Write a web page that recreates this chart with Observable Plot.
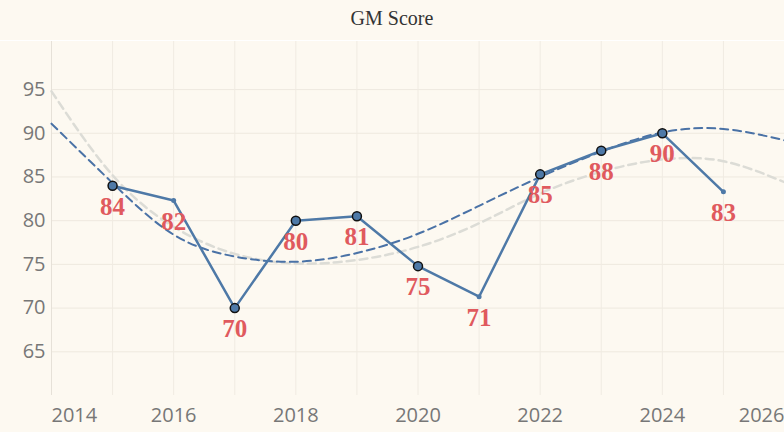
<!DOCTYPE html>
<html><head><meta charset="utf-8">
<script src="https://cdn.jsdelivr.net/npm/d3@7"></script>
<script src="https://cdn.jsdelivr.net/npm/@observablehq/plot@0.6"></script>
<style>
body{margin:0;background:#fdf9f1;}
#t{height:40px;line-height:36px;text-align:center;font-family:"Liberation Serif",serif;font-size:20px;color:#333;border-bottom:1px solid #fff;}
</style></head><body>
<div id="t">GM Score</div>
<div id="c"></div>
<script>
const years=[2015,2016,2017,2018,2019,2020,2021,2022,2023,2024,2025];
const scores=[84,82.3,70,80,80.5,74.8,71.3,85.3,88,90,83.3];
const labels=["84","82","70","80","81","75","71","85","88","90","83"];
const bigMarker=[true,false,true,true,true,true,false,true,true,true,false];
const trendYears=[2014,2015,2016,2017,2018,2019,2020,2021,2022,2023,2024,2025,2026];
const trendBlue=[91.1,84.3,78.4,75.9,75.3,76.3,78.5,81.7,85,87.9,90.1,90.5,89.2];
const trendGray=[94.8,85.2,79.3,76.2,75.1,75.5,77,79.7,83.1,85.6,87,86.8,84.4];
const yTicks=[65,70,75,80,85,90,95];
const xTicks=[2014,2016,2018,2020,2022,2024,2026];

const pts=years.map((y,i)=>({year:y,score:scores[i],label:labels[i],big:bigMarker[i]}));
const tb=trendYears.map((y,i)=>({year:y,v:trendBlue[i]}));
const tg=trendYears.map((y,i)=>({year:y,v:trendGray[i]}));
const xl=(ticks,anchor)=>Plot.text(ticks,{x:d=>d,y:60,text:d=>String(d),dy:20,fontSize:20,fill:"#777",textAnchor:anchor});
const chart=Plot.plot({
  width:784,height:392,marginLeft:51,marginRight:0,marginTop:0,marginBottom:38,
  style:{background:"#fdf9f1",fontFamily:"Open Sans, sans-serif"},
  x:{domain:[2014,2026],axis:null},
  y:{domain:[60,100.5],axis:null},
  marks:[
    Plot.gridY(yTicks,{stroke:"#eee9df",strokeOpacity:1}),
    Plot.gridX(xTicks.concat([2015,2017,2019,2021,2023,2025]),{stroke:"#f0ebe2",strokeOpacity:1}),
    Plot.ruleX([2014],{stroke:"#e6e1d8"}),
    Plot.text(yTicks,{x:2014,y:d=>d,text:d=>String(d),dx:-6,textAnchor:"end",fontSize:20,fill:"#777"}),
    xl([2014],"start"),
    xl([2016,2018,2020,2022,2024],"middle"),
    xl([2026],"end"),
    Plot.line(tg,{x:"year",y:"v",curve:"natural",stroke:"#dcdcd6",strokeWidth:2.5,strokeDasharray:"8,5"}),
    Plot.line(tb,{x:"year",y:"v",curve:"natural",stroke:"#4a72a6",strokeWidth:2,strokeDasharray:"8,5"}),
    Plot.line(pts,{x:"year",y:"score",stroke:"#4e79a7",strokeWidth:2.5}),
    Plot.dot(pts.filter(d=>d.big),{x:"year",y:"score",r:4.5,fill:"#4e79a7",stroke:"#111",strokeWidth:1.5}),
    Plot.dot(pts.filter(d=>!d.big),{x:"year",y:"score",r:2.5,fill:"#4e79a7"}),
    Plot.text(pts,{x:"year",y:"score",text:"label",dy:21,fontSize:25,fontWeight:"bold",fill:"#e05a5e",fontFamily:"Liberation Serif, serif"})
  ]
});
document.getElementById("c").appendChild(chart);
</script></body></html>
